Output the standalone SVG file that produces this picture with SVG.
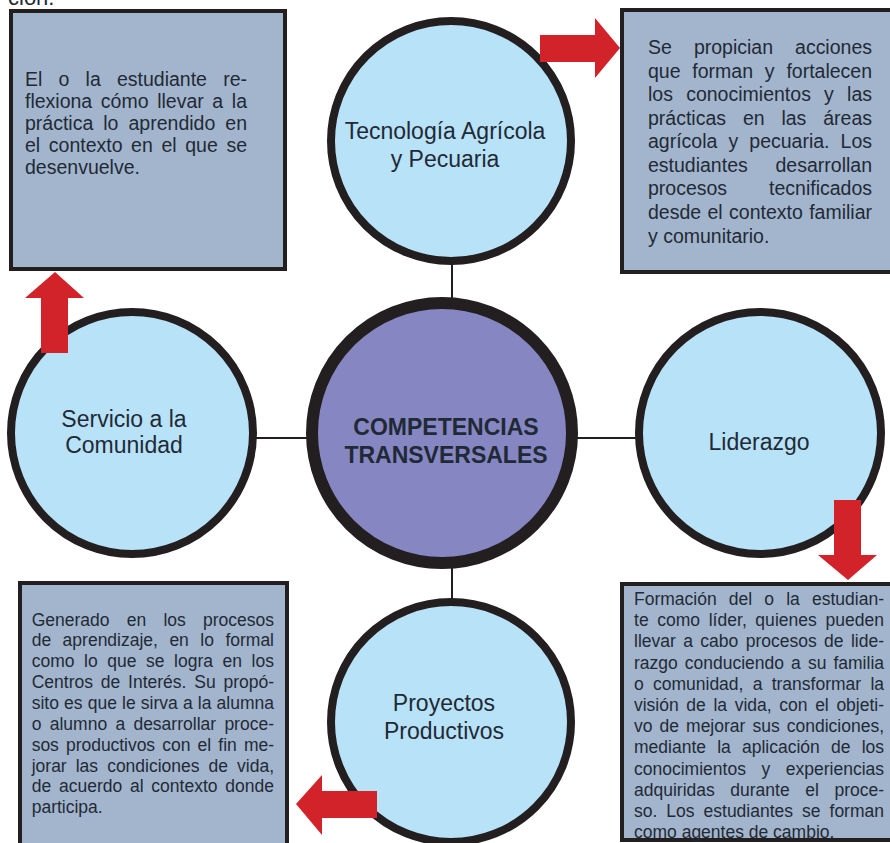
<svg xmlns="http://www.w3.org/2000/svg" width="890" height="843" viewBox="0 0 890 843">
<style>
.box{fill:#a3b5cc;stroke:#231f20;stroke-width:4}
.circ{fill:#b8e2f8;stroke:#231f20;stroke-width:8}
.core{fill:#8686c2;stroke:#231f20;stroke-width:12}
.arrow{fill:#d2232a}
.conn{stroke:#231f20;stroke-width:2;fill:none}
.lbl{font-family:"Liberation Sans",Arial,sans-serif;font-size:23px;fill:#1f2a36;text-anchor:middle}
.core-lbl{font-family:"Liberation Sans",Arial,sans-serif;font-size:23px;font-weight:bold;fill:#1f2a36;text-anchor:middle}
.t19{font-family:"Liberation Sans",Arial,sans-serif;font-size:19.5px;fill:#1f2a36}
.t17{font-family:"Liberation Sans",Arial,sans-serif;font-size:17.5px;fill:#1f2a36}
</style>
<rect width="890" height="843" fill="#ffffff"/>
<text class="t19" x="8" y="5" style="font-size:22px">ción.</text>

<g id="box-servicio">
<rect class="box" x="11" y="11" width="274" height="258"/>
<text class="t19">
<tspan x="25" y="86" word-spacing="10.8" textLength="222" lengthAdjust="spacing">El o la estudiante re-</tspan>
<tspan x="25" y="108" word-spacing="3.2" textLength="222" lengthAdjust="spacing">flexiona cómo llevar a la</tspan>
<tspan x="25" y="130" word-spacing="4.6" textLength="222" lengthAdjust="spacing">práctica lo aprendido en</tspan>
<tspan x="25" y="152" word-spacing="3.2" textLength="222" lengthAdjust="spacing">el contexto en el que se</tspan>
<tspan x="25" y="174">desenvuelve.</tspan>
</text>
</g>

<g id="box-tecnologia">
<rect class="box" x="622" y="10" width="280" height="262"/>
<text class="t19">
<tspan x="648" y="54" word-spacing="16.6" textLength="224" lengthAdjust="spacing">Se propician acciones</tspan>
<tspan x="648" y="77.5" word-spacing="6.4" textLength="224" lengthAdjust="spacing">que forman y fortalecen</tspan>
<tspan x="648" y="101" word-spacing="7.8" textLength="224" lengthAdjust="spacing">los conocimientos y las</tspan>
<tspan x="648" y="124.5" word-spacing="11.4" textLength="224" lengthAdjust="spacing">prácticas en las áreas</tspan>
<tspan x="648" y="148" word-spacing="5.7" textLength="224" lengthAdjust="spacing">agrícola y pecuaria. Los</tspan>
<tspan x="648" y="171.5" word-spacing="22.4" textLength="224" lengthAdjust="spacing">estudiantes desarrollan</tspan>
<tspan x="648" y="195" word-spacing="36.5" textLength="224" lengthAdjust="spacing">procesos tecnificados</tspan>
<tspan x="648" y="218.5" word-spacing="1" textLength="224" lengthAdjust="spacing">desde el contexto familiar</tspan>
<tspan x="648" y="242.5">y comunitario.</tspan>
</text>
</g>

<g id="box-proyectos">
<rect class="box" x="20" y="583" width="267" height="280"/>
<text class="t17">
<tspan x="31.7" y="625.5" word-spacing="12.4" textLength="242.3" lengthAdjust="spacing">Generado en los procesos</tspan>
<tspan x="31.7" y="646.4" word-spacing="6.6" textLength="242.3" lengthAdjust="spacing">de aprendizaje, en lo formal</tspan>
<tspan x="31.7" y="667.2" word-spacing="4.7" textLength="242.3" lengthAdjust="spacing">como lo que se logra en los</tspan>
<tspan x="31.7" y="688.1" word-spacing="2.9" textLength="242.3" lengthAdjust="spacing">Centros de Interés. Su propó-</tspan>
<tspan x="31.7" y="708.9" word-spacing="0.3" textLength="242.3" lengthAdjust="spacing">sito es que le sirva a la alumna</tspan>
<tspan x="31.7" y="729.8" word-spacing="3.4" textLength="242.3" lengthAdjust="spacing">o alumno a desarrollar proce-</tspan>
<tspan x="31.7" y="750.6" word-spacing="2.4" textLength="242.3" lengthAdjust="spacing">sos productivos con el fin me-</tspan>
<tspan x="31.7" y="771.5" word-spacing="4.2" textLength="242.3" lengthAdjust="spacing">jorar las condiciones de vida,</tspan>
<tspan x="31.7" y="792.3" word-spacing="2.9" textLength="242.3" lengthAdjust="spacing">de acuerdo al contexto donde</tspan>
<tspan x="31.7" y="813.2">participa.</tspan>
</text>
</g>

<g id="box-liderazgo">
<rect class="box" x="622" y="584" width="280" height="256"/>
<text class="t17">
<tspan x="634" y="605" word-spacing="7.3" textLength="250" lengthAdjust="spacing">Formación del o la estudian-</tspan>
<tspan x="634" y="626.2" word-spacing="3.6" textLength="250" lengthAdjust="spacing">te como líder, quienes pueden</tspan>
<tspan x="634" y="647.4" word-spacing="2.5" textLength="250" lengthAdjust="spacing">llevar a cabo procesos de lide-</tspan>
<tspan x="634" y="668.6" word-spacing="2.2" textLength="250" lengthAdjust="spacing">razgo conduciendo a su familia</tspan>
<tspan x="634" y="689.8" word-spacing="4.4" textLength="250" lengthAdjust="spacing">o comunidad, a transformar la</tspan>
<tspan x="634" y="711" word-spacing="2.8" textLength="250" lengthAdjust="spacing">visión de la vida, con el objeti-</tspan>
<tspan x="634" y="732.2" word-spacing="2.2" textLength="250" lengthAdjust="spacing">vo de mejorar sus condiciones,</tspan>
<tspan x="634" y="753.4" word-spacing="6.3" textLength="250" lengthAdjust="spacing">mediante la aplicación de los</tspan>
<tspan x="634" y="774.6" word-spacing="10.7" textLength="250" lengthAdjust="spacing">conocimientos y experiencias</tspan>
<tspan x="634" y="795.8" word-spacing="10.7" textLength="250" lengthAdjust="spacing">adquiridas durante el proce-</tspan>
<tspan x="634" y="817" word-spacing="4.1" textLength="250" lengthAdjust="spacing">so. Los estudiantes se forman</tspan>
<tspan x="634" y="838.2">como agentes de cambio.</tspan>
</text>
</g>

<g id="connectors">
<line class="conn" x1="452" y1="262" x2="452" y2="300"/>
<line class="conn" x1="452" y1="566" x2="452" y2="602"/>
<line class="conn" x1="254" y1="438" x2="308" y2="438"/>
<line class="conn" x1="576" y1="438" x2="639" y2="438"/>
</g>

<g id="node-tecnologia">
<circle class="circ" cx="451" cy="141" r="120"/>
<text class="lbl" x="445" y="139">Tecnología Agrícola</text>
<text class="lbl" x="445" y="167">y Pecuaria</text>
</g>

<g id="node-servicio">
<circle class="circ" cx="132" cy="433" r="121"/>
<text class="lbl" x="124" y="427">Servicio a la</text>
<text class="lbl" x="124" y="453">Comunidad</text>
</g>

<g id="node-liderazgo">
<circle class="circ" cx="760" cy="433" r="121"/>
<text class="lbl" x="759" y="450">Liderazgo</text>
</g>

<g id="node-proyectos">
<circle class="circ" cx="451" cy="722" r="120"/>
<text class="lbl" x="444" y="711">Proyectos</text>
<text class="lbl" x="444" y="739">Productivos</text>
</g>

<g id="node-competencias">
<circle class="core" cx="442" cy="433" r="130"/>
<text class="core-lbl" x="446" y="435">COMPETENCIAS</text>
<text class="core-lbl" x="446" y="463">TRANSVERSALES</text>
</g>

<g id="arrows">
<path class="arrow" d="M540,35 H595 V18 L620,48 L595,78 V62 H540 Z"/>
<path class="arrow" d="M41,353 V298 H25 L55,272 L84,298 H68 V353 Z"/>
<path class="arrow" d="M834,500 H861 V555 H877 L848,580 L818,555 H834 Z"/>
<path class="arrow" d="M377,791 H322 V775 L296,804 L322,835 V818 H377 Z"/>
</g>
</svg>
